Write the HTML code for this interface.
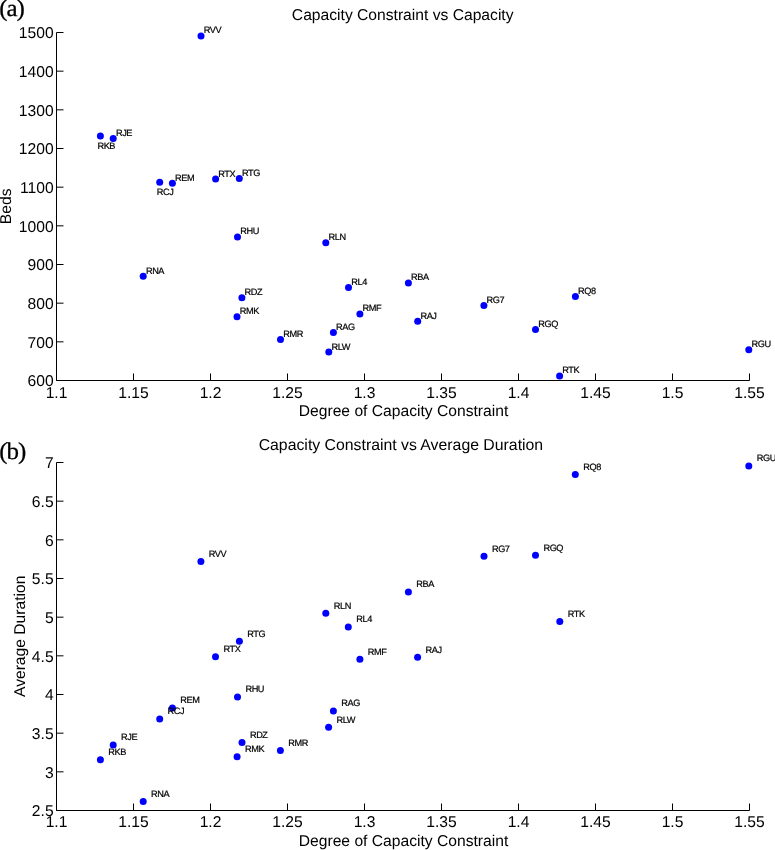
<!DOCTYPE html>
<html lang="en"><head><meta charset="utf-8"><title>Capacity Constraint plots</title>
<style>html,body{margin:0;padding:0;background:#fff}body{width:775px;height:850px;overflow:hidden}svg{display:block}text{font-family:"Liberation Sans", sans-serif;fill:#000;text-rendering:geometricPrecision}.t{font-size:15.65px}.l{font-size:9.2px;fill:#000;stroke:#000;stroke-width:0.2px;letter-spacing:-0.4px}.s{font-family:"Liberation Serif","DejaVu Serif",serif}</style></head><body>
<svg width="775" height="850" viewBox="0 0 775 850">
<rect width="775" height="850" fill="#fff"/>
<g stroke="#000" stroke-width="1" fill="none">
<path d="M56.5 32.5V380.5H749.5"/>
<path d="M56.5 32.5h7M56.5 71.17h7M56.5 109.83h7M56.5 148.5h7M56.5 187.17h7M56.5 225.83h7M56.5 264.5h7M56.5 303.17h7M56.5 341.83h7M56.5 380.5h7M56.5 380.5v-7M133.5 380.5v-7M210.5 380.5v-7M287.5 380.5v-7M364.5 380.5v-7M441.5 380.5v-7M518.5 380.5v-7M595.5 380.5v-7M672.5 380.5v-7M749.5 380.5v-7"/>
</g>
<g class="t" text-anchor="end">
<text x="53.6" y="38.4">1500</text>
<text x="53.6" y="77.1">1400</text>
<text x="53.6" y="115.7">1300</text>
<text x="53.6" y="154.4">1200</text>
<text x="53.6" y="193.1">1100</text>
<text x="53.6" y="231.7">1000</text>
<text x="53.6" y="270.4">900</text>
<text x="53.6" y="309.1">800</text>
<text x="53.6" y="347.7">700</text>
<text x="53.6" y="386.4">600</text>
</g>
<g class="t" text-anchor="middle">
<text x="56.5" y="398.0">1.1</text>
<text x="133.5" y="398.0">1.15</text>
<text x="210.5" y="398.0">1.2</text>
<text x="287.5" y="398.0">1.25</text>
<text x="364.5" y="398.0">1.3</text>
<text x="441.5" y="398.0">1.35</text>
<text x="518.5" y="398.0">1.4</text>
<text x="595.5" y="398.0">1.45</text>
<text x="672.5" y="398.0">1.5</text>
<text x="749.5" y="398.0">1.55</text>
</g>
<g fill="#0000ff">
<circle cx="201.0" cy="36.0" r="3.5"/>
<circle cx="100.4" cy="135.9" r="3.5"/>
<circle cx="113.2" cy="138.4" r="3.5"/>
<circle cx="159.7" cy="182.3" r="3.5"/>
<circle cx="172.4" cy="183.3" r="3.5"/>
<circle cx="215.6" cy="179.1" r="3.5"/>
<circle cx="239.3" cy="178.6" r="3.5"/>
<circle cx="237.5" cy="236.9" r="3.5"/>
<circle cx="143.2" cy="276.2" r="3.5"/>
<circle cx="241.9" cy="297.8" r="3.5"/>
<circle cx="237.0" cy="316.8" r="3.5"/>
<circle cx="280.5" cy="339.4" r="3.5"/>
<circle cx="325.8" cy="242.7" r="3.5"/>
<circle cx="348.5" cy="287.6" r="3.5"/>
<circle cx="408.4" cy="282.9" r="3.5"/>
<circle cx="359.9" cy="314.0" r="3.5"/>
<circle cx="417.7" cy="321.2" r="3.5"/>
<circle cx="333.4" cy="332.4" r="3.5"/>
<circle cx="328.8" cy="352.1" r="3.5"/>
<circle cx="483.9" cy="305.4" r="3.5"/>
<circle cx="575.4" cy="296.4" r="3.5"/>
<circle cx="535.5" cy="329.4" r="3.5"/>
<circle cx="559.6" cy="376.0" r="3.5"/>
<circle cx="748.8" cy="349.7" r="3.5"/>
</g>
<g class="l">
<text x="203.7" y="33.4">RVV</text>
<text x="97.4" y="148.9">RKB</text>
<text x="115.9" y="135.8">RJE</text>
<text x="156.7" y="195.3">RCJ</text>
<text x="175.1" y="180.7">REM</text>
<text x="218.3" y="176.5">RTX</text>
<text x="242.0" y="176.0">RTG</text>
<text x="240.2" y="234.3">RHU</text>
<text x="145.9" y="273.6">RNA</text>
<text x="244.6" y="295.2">RDZ</text>
<text x="239.7" y="314.2">RMK</text>
<text x="283.2" y="336.8">RMR</text>
<text x="328.5" y="240.1">RLN</text>
<text x="351.2" y="285.0">RL4</text>
<text x="411.1" y="280.3">RBA</text>
<text x="362.6" y="311.4">RMF</text>
<text x="420.4" y="318.6">RAJ</text>
<text x="336.1" y="329.8">RAG</text>
<text x="331.5" y="349.5">RLW</text>
<text x="486.6" y="302.8">RG7</text>
<text x="578.1" y="293.8">RQ8</text>
<text x="538.2" y="326.8">RGQ</text>
<text x="562.3" y="373.4">RTK</text>
<text x="751.5" y="347.1">RGU</text>
</g>
<g stroke="#000" stroke-width="1" fill="none">
<path d="M56.5 462.5V810.5H749.5"/>
<path d="M56.5 462.5h7M56.5 501.17h7M56.5 539.83h7M56.5 578.5h7M56.5 617.17h7M56.5 655.83h7M56.5 694.5h7M56.5 733.17h7M56.5 771.83h7M56.5 810.5h7M56.5 810.5v-7M133.5 810.5v-7M210.5 810.5v-7M287.5 810.5v-7M364.5 810.5v-7M441.5 810.5v-7M518.5 810.5v-7M595.5 810.5v-7M672.5 810.5v-7M749.5 810.5v-7"/>
</g>
<g class="t" text-anchor="end">
<text x="53.6" y="468.4">7</text>
<text x="53.6" y="507.1">6.5</text>
<text x="53.6" y="545.7">6</text>
<text x="53.6" y="584.4">5.5</text>
<text x="53.6" y="623.1">5</text>
<text x="53.6" y="661.7">4.5</text>
<text x="53.6" y="700.4">4</text>
<text x="53.6" y="739.1">3.5</text>
<text x="53.6" y="777.7">3</text>
<text x="53.6" y="816.4">2.5</text>
</g>
<g class="t" text-anchor="middle">
<text x="56.5" y="827.0">1.1</text>
<text x="133.5" y="827.0">1.15</text>
<text x="210.5" y="827.0">1.2</text>
<text x="287.5" y="827.0">1.25</text>
<text x="364.5" y="827.0">1.3</text>
<text x="441.5" y="827.0">1.35</text>
<text x="518.5" y="827.0">1.4</text>
<text x="595.5" y="827.0">1.45</text>
<text x="672.5" y="827.0">1.5</text>
<text x="749.5" y="827.0">1.55</text>
</g>
<g fill="#0000ff">
<circle cx="200.9" cy="561.6" r="3.5"/>
<circle cx="100.4" cy="759.8" r="3.5"/>
<circle cx="113.2" cy="745.0" r="3.5"/>
<circle cx="159.7" cy="719.0" r="3.5"/>
<circle cx="172.4" cy="708.0" r="3.5"/>
<circle cx="215.5" cy="656.8" r="3.5"/>
<circle cx="239.4" cy="641.2" r="3.5"/>
<circle cx="237.5" cy="697.0" r="3.5"/>
<circle cx="143.2" cy="801.4" r="3.5"/>
<circle cx="242.0" cy="742.5" r="3.5"/>
<circle cx="237.1" cy="756.7" r="3.5"/>
<circle cx="280.4" cy="750.4" r="3.5"/>
<circle cx="325.8" cy="613.2" r="3.5"/>
<circle cx="348.3" cy="626.9" r="3.5"/>
<circle cx="408.4" cy="592.0" r="3.5"/>
<circle cx="359.9" cy="659.2" r="3.5"/>
<circle cx="417.6" cy="657.3" r="3.5"/>
<circle cx="333.4" cy="711.0" r="3.5"/>
<circle cx="328.6" cy="727.3" r="3.5"/>
<circle cx="484.0" cy="556.2" r="3.5"/>
<circle cx="575.3" cy="474.6" r="3.5"/>
<circle cx="535.5" cy="555.3" r="3.5"/>
<circle cx="559.8" cy="621.4" r="3.5"/>
<circle cx="748.8" cy="466.1" r="3.5"/>
</g>
<g class="l">
<text x="208.8" y="556.9">RVV</text>
<text x="108.3" y="755.1">RKB</text>
<text x="121.1" y="740.3">RJE</text>
<text x="167.6" y="714.3">RCJ</text>
<text x="180.3" y="703.3">REM</text>
<text x="223.4" y="652.1">RTX</text>
<text x="247.3" y="636.5">RTG</text>
<text x="245.4" y="692.3">RHU</text>
<text x="151.1" y="796.7">RNA</text>
<text x="249.9" y="737.8">RDZ</text>
<text x="245.0" y="752.0">RMK</text>
<text x="288.3" y="745.7">RMR</text>
<text x="333.7" y="608.5">RLN</text>
<text x="356.2" y="622.2">RL4</text>
<text x="416.3" y="587.3">RBA</text>
<text x="367.8" y="654.5">RMF</text>
<text x="425.5" y="652.6">RAJ</text>
<text x="341.3" y="706.3">RAG</text>
<text x="336.5" y="722.6">RLW</text>
<text x="491.9" y="551.5">RG7</text>
<text x="583.2" y="469.9">RQ8</text>
<text x="543.4" y="550.6">RGQ</text>
<text x="567.7" y="616.7">RTK</text>
<text x="756.7" y="461.4">RGU</text>
</g>
<g class="t" text-anchor="middle">
<text x="402.7" y="20.3">Capacity Constraint vs Capacity</text>
<text x="400.9" y="450.0" font-size="15.82">Capacity Constraint vs Average Duration</text>
<text x="403.5" y="416.0">Degree of Capacity Constraint</text>
<text x="403.5" y="846.0">Degree of Capacity Constraint</text>
<text transform="translate(11.2 206.3) rotate(-90)">Beds</text>
<text transform="translate(24.7 636.3) rotate(-90)">Average Duration</text>
</g>
<g font-size="24" stroke="#000" stroke-width="0.25" letter-spacing="-1">
<text class="s" transform="translate(-0.8 16.2) scale(1.04 1)">(a)</text>
<text class="s" transform="translate(-0.8 459.3) scale(1.04 1)">(b)</text>
</g>
</svg></body></html>
